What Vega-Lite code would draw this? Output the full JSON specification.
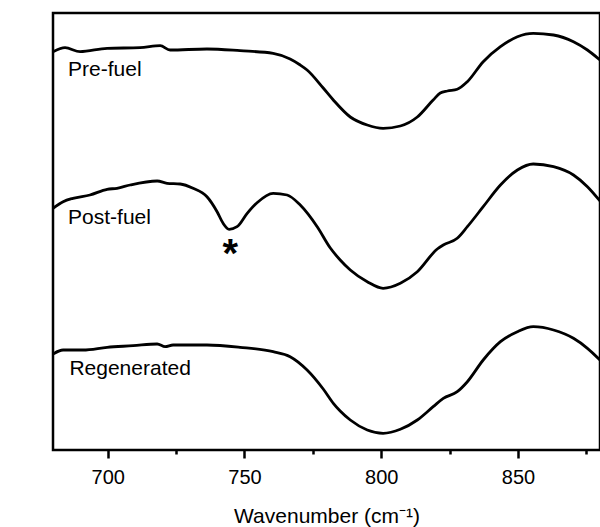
{
  "$schema": "https://vega.github.io/schema/vega-lite/v6.json",
  "width": 547,
  "height": 437,
  "autosize": {"type": "none"},
  "padding": {"left": 53, "top": 13, "right": 0, "bottom": 77},
  "background": "white",
  "config": {
    "view": {"stroke": "black", "strokeWidth": 2.5},
    "font": "Liberation Sans"
  },
  "datasets": {
    "spectra": [
      {"series": "Pre-fuel", "wavenumber": 680, "intensity": 398.3},
      {"series": "Pre-fuel", "wavenumber": 684.4, "intensity": 402.3},
      {"series": "Pre-fuel", "wavenumber": 689.9, "intensity": 398.3},
      {"series": "Pre-fuel", "wavenumber": 699.8, "intensity": 401.7},
      {"series": "Pre-fuel", "wavenumber": 711.8, "intensity": 402.3},
      {"series": "Pre-fuel", "wavenumber": 719.2, "intensity": 404.3},
      {"series": "Pre-fuel", "wavenumber": 722.8, "intensity": 400},
      {"series": "Pre-fuel", "wavenumber": 736.3, "intensity": 401},
      {"series": "Pre-fuel", "wavenumber": 748.4, "intensity": 399.3},
      {"series": "Pre-fuel", "wavenumber": 760.5, "intensity": 396.7},
      {"series": "Pre-fuel", "wavenumber": 766.7, "intensity": 391},
      {"series": "Pre-fuel", "wavenumber": 770.4, "intensity": 385},
      {"series": "Pre-fuel", "wavenumber": 772.9, "intensity": 380},
      {"series": "Pre-fuel", "wavenumber": 778.8, "intensity": 362},
      {"series": "Pre-fuel", "wavenumber": 782.5, "intensity": 350},
      {"series": "Pre-fuel", "wavenumber": 788.7, "intensity": 333},
      {"series": "Pre-fuel", "wavenumber": 794.9, "intensity": 325},
      {"series": "Pre-fuel", "wavenumber": 800.7, "intensity": 321.7},
      {"series": "Pre-fuel", "wavenumber": 807.0, "intensity": 324},
      {"series": "Pre-fuel", "wavenumber": 813.2, "intensity": 333},
      {"series": "Pre-fuel", "wavenumber": 819.0, "intensity": 350},
      {"series": "Pre-fuel", "wavenumber": 821.6, "intensity": 357},
      {"series": "Pre-fuel", "wavenumber": 824.2, "intensity": 359},
      {"series": "Pre-fuel", "wavenumber": 827.8, "intensity": 360.7},
      {"series": "Pre-fuel", "wavenumber": 831.5, "intensity": 368.3},
      {"series": "Pre-fuel", "wavenumber": 837.3, "intensity": 388.3},
      {"series": "Pre-fuel", "wavenumber": 843.6, "intensity": 403.3},
      {"series": "Pre-fuel", "wavenumber": 849.8, "intensity": 413.3},
      {"series": "Pre-fuel", "wavenumber": 855.6, "intensity": 416.7},
      {"series": "Pre-fuel", "wavenumber": 863.0, "intensity": 415},
      {"series": "Pre-fuel", "wavenumber": 870.3, "intensity": 408.3},
      {"series": "Pre-fuel", "wavenumber": 875.4, "intensity": 400},
      {"series": "Pre-fuel", "wavenumber": 880, "intensity": 390},
      {"series": "Post-fuel", "wavenumber": 680, "intensity": 241.7},
      {"series": "Post-fuel", "wavenumber": 683.7, "intensity": 248.3},
      {"series": "Post-fuel", "wavenumber": 687.3, "intensity": 251.7},
      {"series": "Post-fuel", "wavenumber": 693.5, "intensity": 255},
      {"series": "Post-fuel", "wavenumber": 699.8, "intensity": 260.7},
      {"series": "Post-fuel", "wavenumber": 703.4, "intensity": 261.7},
      {"series": "Post-fuel", "wavenumber": 708.2, "intensity": 265},
      {"series": "Post-fuel", "wavenumber": 718.1, "intensity": 269},
      {"series": "Post-fuel", "wavenumber": 721.7, "intensity": 266.7},
      {"series": "Post-fuel", "wavenumber": 726.5, "intensity": 266},
      {"series": "Post-fuel", "wavenumber": 731.2, "intensity": 261.7},
      {"series": "Post-fuel", "wavenumber": 736.3, "intensity": 253.3},
      {"series": "Post-fuel", "wavenumber": 740.0, "intensity": 238.3},
      {"series": "Post-fuel", "wavenumber": 742.2, "intensity": 226.7},
      {"series": "Post-fuel", "wavenumber": 744.4, "intensity": 220.7},
      {"series": "Post-fuel", "wavenumber": 747.3, "intensity": 223.3},
      {"series": "Post-fuel", "wavenumber": 751.0, "intensity": 236.7},
      {"series": "Post-fuel", "wavenumber": 754.6, "intensity": 247.3},
      {"series": "Post-fuel", "wavenumber": 760.5, "intensity": 256.7},
      {"series": "Post-fuel", "wavenumber": 765.6, "intensity": 255},
      {"series": "Post-fuel", "wavenumber": 770.4, "intensity": 245},
      {"series": "Post-fuel", "wavenumber": 776.6, "intensity": 223.3},
      {"series": "Post-fuel", "wavenumber": 781.4, "intensity": 202},
      {"series": "Post-fuel", "wavenumber": 785.0, "intensity": 190},
      {"series": "Post-fuel", "wavenumber": 788.7, "intensity": 180},
      {"series": "Post-fuel", "wavenumber": 794.9, "intensity": 168.3},
      {"series": "Post-fuel", "wavenumber": 800.7, "intensity": 161.7},
      {"series": "Post-fuel", "wavenumber": 807.0, "intensity": 166.7},
      {"series": "Post-fuel", "wavenumber": 813.2, "intensity": 178.3},
      {"series": "Post-fuel", "wavenumber": 820.5, "intensity": 201},
      {"series": "Post-fuel", "wavenumber": 822.7, "intensity": 205},
      {"series": "Post-fuel", "wavenumber": 827.8, "intensity": 211.7},
      {"series": "Post-fuel", "wavenumber": 831.5, "intensity": 223.3},
      {"series": "Post-fuel", "wavenumber": 837.3, "intensity": 243.3},
      {"series": "Post-fuel", "wavenumber": 843.6, "intensity": 265},
      {"series": "Post-fuel", "wavenumber": 849.8, "intensity": 280},
      {"series": "Post-fuel", "wavenumber": 855.6, "intensity": 286},
      {"series": "Post-fuel", "wavenumber": 863.0, "intensity": 283.3},
      {"series": "Post-fuel", "wavenumber": 870.3, "intensity": 275},
      {"series": "Post-fuel", "wavenumber": 875.4, "intensity": 263.3},
      {"series": "Post-fuel", "wavenumber": 880, "intensity": 249},
      {"series": "Regenerated", "wavenumber": 680, "intensity": 96},
      {"series": "Regenerated", "wavenumber": 683.7, "intensity": 100},
      {"series": "Regenerated", "wavenumber": 691.0, "intensity": 100},
      {"series": "Regenerated", "wavenumber": 699.8, "intensity": 102.7},
      {"series": "Regenerated", "wavenumber": 709.3, "intensity": 104.3},
      {"series": "Regenerated", "wavenumber": 718.1, "intensity": 106},
      {"series": "Regenerated", "wavenumber": 721.0, "intensity": 103.3},
      {"series": "Regenerated", "wavenumber": 723.9, "intensity": 105},
      {"series": "Regenerated", "wavenumber": 736.3, "intensity": 105},
      {"series": "Regenerated", "wavenumber": 748.4, "intensity": 102.7},
      {"series": "Regenerated", "wavenumber": 760.5, "intensity": 98.3},
      {"series": "Regenerated", "wavenumber": 766.7, "intensity": 93.3},
      {"series": "Regenerated", "wavenumber": 772.9, "intensity": 80},
      {"series": "Regenerated", "wavenumber": 778.8, "intensity": 61},
      {"series": "Regenerated", "wavenumber": 782.5, "intensity": 46.7},
      {"series": "Regenerated", "wavenumber": 785.0, "intensity": 39},
      {"series": "Regenerated", "wavenumber": 788.7, "intensity": 30},
      {"series": "Regenerated", "wavenumber": 794.9, "intensity": 20},
      {"series": "Regenerated", "wavenumber": 800.7, "intensity": 16.7},
      {"series": "Regenerated", "wavenumber": 807.0, "intensity": 20.7},
      {"series": "Regenerated", "wavenumber": 813.2, "intensity": 30},
      {"series": "Regenerated", "wavenumber": 819.0, "intensity": 43.3},
      {"series": "Regenerated", "wavenumber": 822.7, "intensity": 51.7},
      {"series": "Regenerated", "wavenumber": 827.8, "intensity": 58.3},
      {"series": "Regenerated", "wavenumber": 831.5, "intensity": 68.3},
      {"series": "Regenerated", "wavenumber": 837.3, "intensity": 90},
      {"series": "Regenerated", "wavenumber": 843.6, "intensity": 108.3},
      {"series": "Regenerated", "wavenumber": 849.8, "intensity": 118.3},
      {"series": "Regenerated", "wavenumber": 855.6, "intensity": 123.3},
      {"series": "Regenerated", "wavenumber": 863.0, "intensity": 120},
      {"series": "Regenerated", "wavenumber": 870.3, "intensity": 111.7},
      {"series": "Regenerated", "wavenumber": 875.4, "intensity": 101.7},
      {"series": "Regenerated", "wavenumber": 880, "intensity": 90}
    ],
    "labels": [
      {"label": "Pre-fuel", "wavenumber": 685.5, "intensity": 374},
      {"label": "Post-fuel", "wavenumber": 685.5, "intensity": 226},
      {"label": "Regenerated", "wavenumber": 686, "intensity": 75}
    ],
    "marker": [
      {"label": "*", "wavenumber": 744.8, "intensity": 183}
    ]
  },
  "layer": [
    {
      "data": {"name": "spectra"},
      "mark": {"type": "line", "color": "black", "strokeWidth": 2.8, "interpolate": "monotone", "clip": true},
      "encoding": {
        "x": {
          "field": "wavenumber", "type": "quantitative",
          "scale": {"domain": [680, 880], "nice": false, "zero": false},
          "axis": {
            "orient": "bottom",
            "values": [700, 750, 800, 850], "domain": false, "grid": false,
            "tickColor": "black", "tickSize": 8, "tickWidth": 2.5,
            "labelFontSize": 20, "labelColor": "black", "labelBaseline": "alphabetic", "labelPadding": 25,
            "title": "Wavenumber (cm⁻¹)", "titleFontSize": 21, "titleFontWeight": "normal",
            "titleColor": "black", "titleBaseline": "alphabetic", "titleY": 72
          }
        },
        "y": {
          "field": "intensity", "type": "quantitative",
          "scale": {"domain": [0, 437], "nice": false, "zero": false},
          "axis": {
            "domain": false, "ticks": false, "labels": false, "grid": false,
            "title": "Intensity (a.u.)", "titleFontSize": 21, "titleFontWeight": "normal",
            "titleColor": "black", "titleBaseline": "alphabetic", "titleX": -25, "titleY": 218.5
          }
        },
        "detail": {"field": "series", "type": "nominal"}
      }
    },
    {
      "data": {"name": "labels"},
      "mark": {"type": "text", "align": "left", "baseline": "alphabetic", "fontSize": 21, "color": "black", "font": "Liberation Sans"},
      "encoding": {
        "x": {
          "field": "wavenumber", "type": "quantitative",
          "axis": {
            "orient": "bottom", "offset": 0,
            "values": [725, 775, 825, 875], "domain": false, "grid": false, "labels": false,
            "tickColor": "black", "tickSize": 4, "tickWidth": 2.5, "title": null
          }
        },
        "y": {"field": "intensity", "type": "quantitative", "axis": null},
        "text": {"field": "label"}
      }
    },
    {
      "data": {"name": "marker"},
      "mark": {"type": "text", "align": "center", "baseline": "alphabetic", "fontSize": 40, "fontWeight": "bold", "color": "black", "font": "Liberation Sans"},
      "encoding": {
        "x": {"field": "wavenumber", "type": "quantitative", "axis": null},
        "y": {"field": "intensity", "type": "quantitative", "axis": null},
        "text": {"field": "label"}
      }
    }
  ],
  "resolve": {"axis": {"x": "independent"}}
}
